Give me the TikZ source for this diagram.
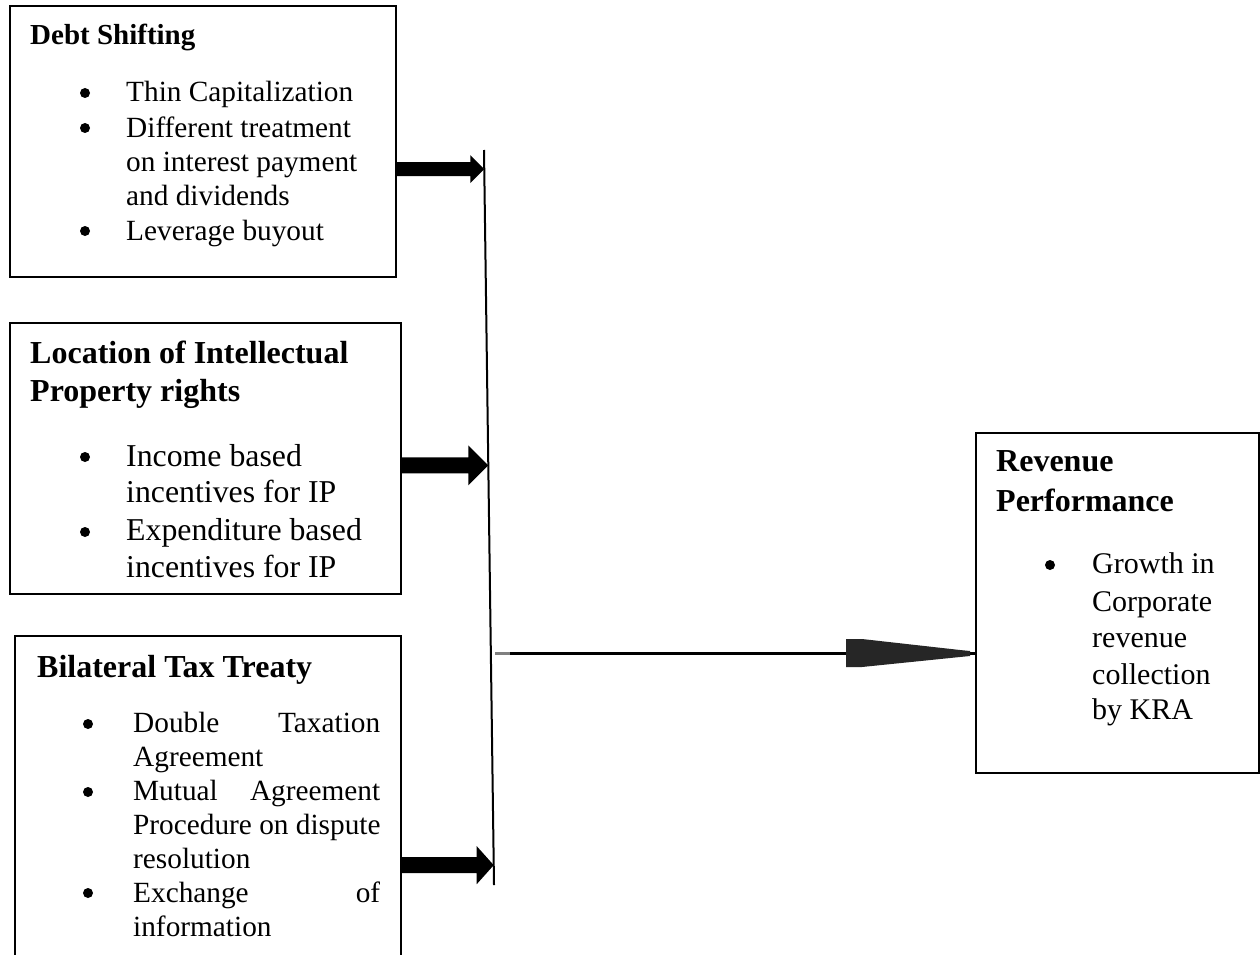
\documentclass[tikz,border=0pt]{standalone}
\usepackage{fontspec}
\setmainfont{Liberation Serif}
\usetikzlibrary{calc}
\newcommand{\myblockarrow}[5]{% start, tip, half shaft, head length, half head
  \fill[black] let \p1=(#1), \p2=(#2) in
    (\x1,\y1+#3) -- (\x2-#4,\y1+#3) -- (\x2-#4,\y1+#5) -- (\x2,\y2)
    -- (\x2-#4,\y1-#5) -- (\x2-#4,\y1-#3) -- (\x1,\y1-#3) -- cycle;}
\begin{document}
\begin{tikzpicture}[x=1pt,y=-1pt,
  box/.style={draw=black,line width=2pt,anchor=north west,inner sep=0pt},
  hd/.style={anchor=base west,inner sep=0pt,font=\fontsize{32}{37}\selectfont\bfseries},
  hdsmall/.style={anchor=base west,inner sep=0pt,font=\fontsize{29}{34}\selectfont\bfseries},
  txt/.style={anchor=base west,inner sep=0pt,font=\fontsize{29.3}{34}\selectfont},
  txtbig/.style={anchor=base west,inner sep=0pt,font=\fontsize{31.8}{37}\selectfont},
  txtrev/.style={anchor=base west,inner sep=0pt,font=\fontsize{30}{37}\selectfont},
  bul/.style={circle,fill=black,inner sep=0pt,minimum size=10pt},
  bus/.style={line width=2pt},
]
\useasboundingbox (0,0) rectangle (1260,955);
\fill[white] (0,0) rectangle (1260,955);

% boxes
\node[box,minimum width=386pt,minimum height=271pt] (b1) at (9,5) {};
\node[box,minimum width=391pt,minimum height=271pt] (b2) at (9,322) {};
\begin{scope}
\clip (0,0) rectangle (1260,955);
\node[box,minimum width=386pt,minimum height=340pt] (b3) at (14,635) {};
\end{scope}
\node[box,minimum width=283pt,minimum height=340pt] (rev) at (975,432) {};

% box 1 text
\node[hdsmall] (h1) at (30,45) {Debt Shifting};
\node[bul] (d1) at (85,93) {};
\node[txt] (t11) at (126,102) {Thin Capitalization};
\node[bul] (d2) at (85,128) {};
\node[txt] (t12) at (126,137) {Different treatment};
\node[txt] (t13) at (126,171) {on interest payment};
\node[txt] (t14) at (126,205) {and dividends};
\node[bul] (d3) at (85,231) {};
\node[txt] (t15) at (126,240) {Leverage buyout};

% box 2 text
\node[hd] (h2a) at (30,363) {Location of Intellectual};
\node[hd] (h2b) at (30,401) {Property rights};
\node[bul] (d4) at (85,457) {};
\node[txtbig] (t21) at (126,466) {Income based};
\node[txtbig] (t22) at (126,502) {incentives for IP};
\node[bul] (d5) at (85,532) {};
\node[txtbig] (t23) at (126,540) {Expenditure based};
\node[txtbig] (t24) at (126,577) {incentives for IP};

% box 3 text
\node[hd] (h3) at (37,677) {Bilateral Tax Treaty};
\node[bul] (d6) at (88,724) {};
\node[txt] (t31) at (133,732) {\hbox to 247pt{Double\hfill Taxation}};
\node[txt] (t32) at (133,766) {Agreement};
\node[bul] (d7) at (88,792) {};
\node[txt] (t33) at (133,800) {\hbox to 247pt{Mutual\hfill Agreement}};
\node[txt] (t34) at (133,834) {Procedure on dispute};
\node[txt] (t35) at (133,868) {resolution};
\node[bul] (d8) at (88,893) {};
\node[txt] (t36) at (133,902) {\hbox to 247pt{Exchange\hfill of}};
\node[txt] (t37) at (133,936) {information};

% revenue text
\node[hd] (h4a) at (996,471) {Revenue};
\node[hd] (h4b) at (996,511) {Performance};
\node[bul] (d9) at (1050,565) {};
\node[txtrev] (t41) at (1092,573) {Growth in};
\node[txtrev] (t42) at (1092,611) {Corporate};
\node[txtrev] (t43) at (1092,647) {revenue};
\node[txtrev] (t44) at (1092,684) {collection};
\node[txtrev] (t45) at (1092,719) {by KRA};

% bus line
\coordinate (bt) at (484,150);
\coordinate (bb) at (494,885);
\draw[bus] (bt) -- (bb);
\coordinate (p1) at ($(bt)!0.026!(bb)$);
\coordinate (p2) at ($(bt)!0.429!(bb)$);
\coordinate (p3) at ($(bt)!0.973!(bb)$);

% block arrows
\coordinate (s1) at (b1.east |- p1);
\coordinate (s2) at (b2.east |- p2);
\coordinate (s3) at (b3.east |- p3);
\myblockarrow{s1}{p1}{7pt}{14pt}{14pt}
\myblockarrow{s2}{p2}{8pt}{20pt}{20pt}
\myblockarrow{s3}{p3}{8pt}{17pt}{19pt}

% horizontal connector
\coordinate (hs) at (495,653);
\draw[line width=3pt,gray] (hs) -- ++(15,0);
\draw[line width=3pt] ($(hs)+(15,0)$) -- (rev.west |- hs);
\fill[black!85] (846,639) -- (862,639) -- (960,650) -- (970,651) -- (970,656) -- (960,657) -- (862,667) -- (846,667) -- cycle;
\end{tikzpicture}
\end{document}
